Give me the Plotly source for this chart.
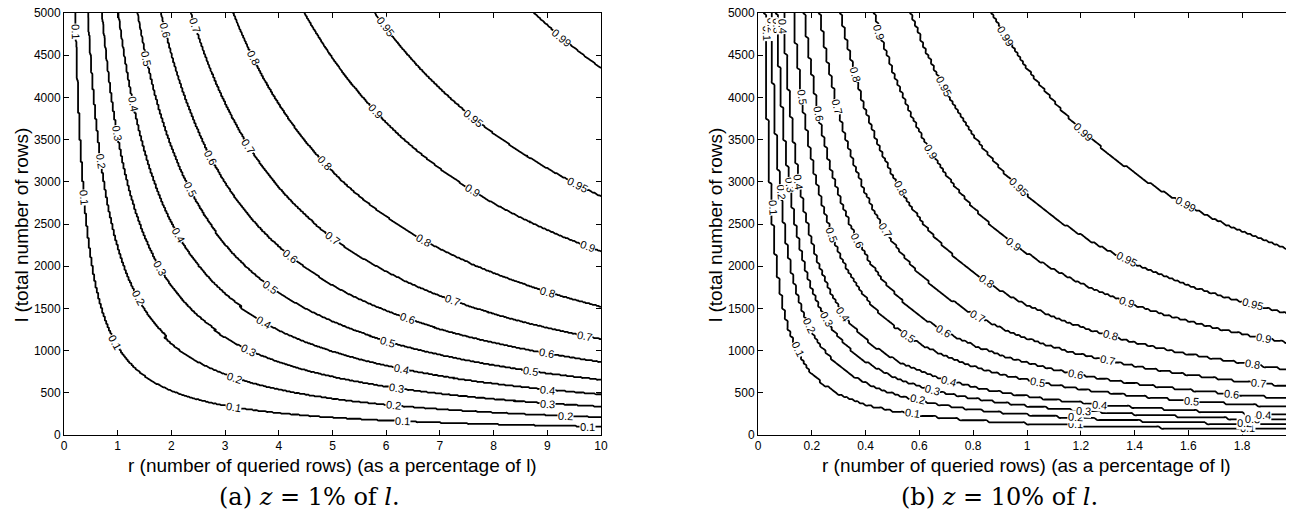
import math
import numpy as np
import plotly.graph_objects as go

# ---- chart values ----
LEVELS = [0.1, 0.2, 0.3, 0.4, 0.5, 0.6, 0.7, 0.8, 0.9, 0.95, 0.99]
Z_PERCENT = [1, 10]                 # z as a percentage of l, panel (a) and (b)
R_MAX = [10, 2]                     # x-axis extent (r as % of l)
L_MAX = 5000                        # y-axis extent
R_STEP = [0.025, 0.01]              # sampling of the r axis
L_STEP = [10, 25]                   # sampling of the l axis
X_TICKS = [[0, 1, 2, 3, 4, 5, 6, 7, 8, 9, 10],
           [0, 0.2, 0.4, 0.6, 0.8, 1, 1.2, 1.4, 1.6, 1.8, 2]]
Y_TICKS = [0, 500, 1000, 1500, 2000, 2500, 3000, 3500, 4000, 4500, 5000]
CAPTIONS = ["(a) <i>z</i> = 1% of <i>l</i>.", "(b) <i>z</i> = 10% of <i>l</i>."]
X_TITLE = "r (number of queried rows) (as a percentage of l)"
Y_TITLE = "l (total number of rows)"

# where the inline contour labels sit: "x" = at this r, "y" = at this l
LABEL_AT = [
    {  # panel (a)
        0.1: {"y": [4775, 2820], "x": [0.95, 3.15, 6.3, 9.75]},
        0.2: {"y": [3250], "x": [1.38, 3.18, 6.13, 9.33]},
        0.3: {"y": [3580], "x": [1.79, 3.43, 6.2, 9.0]},
        0.4: {"y": [3930], "x": [2.13, 3.71, 6.29, 9.0]},
        0.5: {"y": [4460], "x": [2.35, 3.84, 6.03, 8.68]},
        0.6: {"y": [4800], "x": [2.72, 4.21, 6.39, 8.99]},
        0.7: {"y": [4860], "x": [3.43, 5.0, 7.23, 9.7]},
        0.8: {"y": [], "x": [3.52, 4.86, 6.69, 9.0]},
        0.9: {"y": [], "x": [5.8, 7.6, 9.74]},
        0.95: {"y": [], "x": [5.98, 7.62, 9.57]},
        0.99: {"y": [], "x": [9.27]},
    },
    {  # panel (b)
        0.1: {"y": [4760, 2700], "x": [0.148, 0.574, 1.18, 1.82]},
        0.2: {"y": [4850, 2880], "x": [0.193, 0.593, 1.18, 1.81]},
        0.3: {"y": [4850, 2960], "x": [0.255, 0.65, 1.21, 1.84]},
        0.4: {"y": [4850, 3000], "x": [0.315, 0.71, 1.27, 1.88]},
        0.5: {"y": [4000, 2370], "x": [0.556, 1.04, 1.61]},
        0.6: {"y": [3810, 2310], "x": [0.69, 1.18, 1.76]},
        0.7: {"y": [3890, 2430], "x": [0.815, 1.30, 1.86]},
        0.8: {"y": [4270], "x": [0.53, 0.85, 1.31, 1.84]},
        0.9: {"y": [4780], "x": [0.64, 0.95, 1.37, 1.88]},
        0.95: {"y": [], "x": [0.69, 0.97, 1.37, 1.84]},
        0.99: {"y": [], "x": [0.92, 1.21, 1.59]},
    },
]

lg = np.vectorize(math.lgamma)


def prob_discrete(P, Lg, zpct):
    """P(at least one of the z marked rows is among the r queried rows)."""
    r = np.round(P * Lg / 100.0)
    z = zpct / 100.0 * Lg
    logq = lg(Lg - z + 1) - lg(Lg - z - r + 1) - lg(Lg + 1) + lg(Lg - r + 1)
    return 1.0 - np.exp(logq) - 1e-9


def prob_smooth(p, l, zpct):
    r = p * l / 100.0
    z = zpct / 100.0 * l
    return 1.0 - math.exp(math.lgamma(l - z + 1) - math.lgamma(l - z - r + 1)
                          - math.lgamma(l + 1) + math.lgamma(l - r + 1))


W, H = 1294, 515
OFF = 8  # page body margin
PX = [(64 - OFF, 601 - OFF), (758 - OFF, 1296 - OFF)]
PY = (435 - OFF, 13 - OFF)
x_dom = [[PX[0][0] / W, PX[0][1] / W], [PX[1][0] / W, PX[1][1] / W]]
y_dom = [1 - PY[0] / H, 1 - PY[1] / H]

fig = go.Figure()
annotations = []
for k in range(2):
    zp = Z_PERCENT[k]
    p = np.arange(0, R_MAX[k] + R_STEP[k] / 2, R_STEP[k])
    l = np.arange(0, L_MAX + L_STEP[k] / 2, L_STEP[k], dtype=float)
    Pg, Lg = np.meshgrid(p, l)
    prob = prob_discrete(Pg, Lg, zp)
    xa = "x" if k == 0 else "x2"
    ya = "y" if k == 0 else "y2"
    for lev in LEVELS:
        fig.add_trace(go.Contour(
            x=p, y=l, z=prob, xaxis=xa, yaxis=ya,
            autocontour=False,
            contours=dict(start=lev, end=lev, size=1, coloring="none",
                          showlabels=False),
            line=dict(color="black", width=1.8),
            showscale=False, hoverinfo="skip",
        ))

    # inline labels
    kx = (PX[k][1] - PX[k][0]) / R_MAX[k]
    ky = (PY[0] - PY[1]) / L_MAX
    lfine = np.arange(1, L_MAX + 400, 1, dtype=float)
    pfine = np.linspace(0.0005, R_MAX[k], 4001)
    for lev in LEVELS:
        spots = []
        for px in LABEL_AT[k][lev]["x"]:
            vals = prob_discrete(np.full_like(lfine, px), lfine, zp)
            idx = np.argmax(vals >= lev)
            spots.append((px, lfine[idx]))
        for ly in LABEL_AT[k][lev]["y"]:
            vals = prob_discrete(pfine, np.full_like(pfine, ly), zp)
            idx = np.argmax(vals >= lev)
            spots.append((pfine[idx], ly))
        for (xp, yl) in spots:
            hp = R_MAX[k] * 1e-3
            hl = 2.0
            dPdp = (prob_smooth(xp + hp, yl, zp) - prob_smooth(max(xp - hp, 1e-6), yl, zp)) / (2 * hp)
            dPdl = (prob_smooth(xp, yl + hl, zp) - prob_smooth(xp, yl - hl, zp)) / (2 * hl)
            sx = dPdl * kx
            sy = dPdp * ky
            ang = math.degrees(math.atan2(sy, sx))
            if ang > 90:
                ang -= 180
            if ang <= -90:
                ang += 180
            annotations.append(dict(
                text=("%g" % lev), x=xp, y=yl, xref=xa, yref=ya,
                showarrow=False, textangle=ang, bgcolor="white", borderpad=0,
                font=dict(family="Liberation Sans", size=11, color="black"),
                xanchor="center", yanchor="middle"))

axis_common = dict(showline=True, linecolor="black", linewidth=1, mirror="ticks",
                   ticks="inside", ticklen=5, tickcolor="black", showgrid=False,
                   zeroline=False, ticklabeloverflow="allow",
                   tickfont=dict(family="Liberation Sans", size=12, color="black"))

fig.update_layout(
    width=W, height=H, paper_bgcolor="white", plot_bgcolor="white",
    margin=dict(l=0, r=0, t=0, b=0, autoexpand=False), showlegend=False,
    xaxis=dict(domain=x_dom[0], range=[0, R_MAX[0]], tickvals=X_TICKS[0],
               anchor="y", **axis_common),
    yaxis=dict(domain=y_dom, range=[0, L_MAX], tickvals=Y_TICKS, anchor="x",
               **axis_common),
    xaxis2=dict(domain=x_dom[1], range=[0, R_MAX[1]], tickvals=X_TICKS[1],
                ticktext=[str(v) for v in X_TICKS[1]], anchor="y2", **axis_common),
    yaxis2=dict(domain=y_dom, range=[0, L_MAX], tickvals=Y_TICKS, anchor="x2",
                **axis_common),
)

title_font = dict(family="Liberation Sans", size=19, color="black")
for k in range(2):
    annotations.append(dict(text=X_TITLE, xref="paper", yref="paper",
                            x=([332, 1026][k] - OFF) / W, y=1 - (465 - OFF) / H,
                            showarrow=False, font=title_font,
                            xanchor="center", yanchor="middle"))
    annotations.append(dict(text=Y_TITLE, xref="paper", yref="paper",
                            x=([21, 715][k] - OFF) / W, y=1 - (225 - OFF) / H,
                            showarrow=False, textangle=-90, font=title_font,
                            xanchor="center", yanchor="middle"))
    annotations.append(dict(text=CAPTIONS[k], xref="paper", yref="paper",
                            x=([309, 1000][k] - OFF) / W, y=1 - (497 - OFF) / H,
                            showarrow=False,
                            font=dict(family="DejaVu Serif", size=24, color="black"),
                            xanchor="center", yanchor="middle"))

fig.update_layout(annotations=annotations)
fig.write_html("out.html")
